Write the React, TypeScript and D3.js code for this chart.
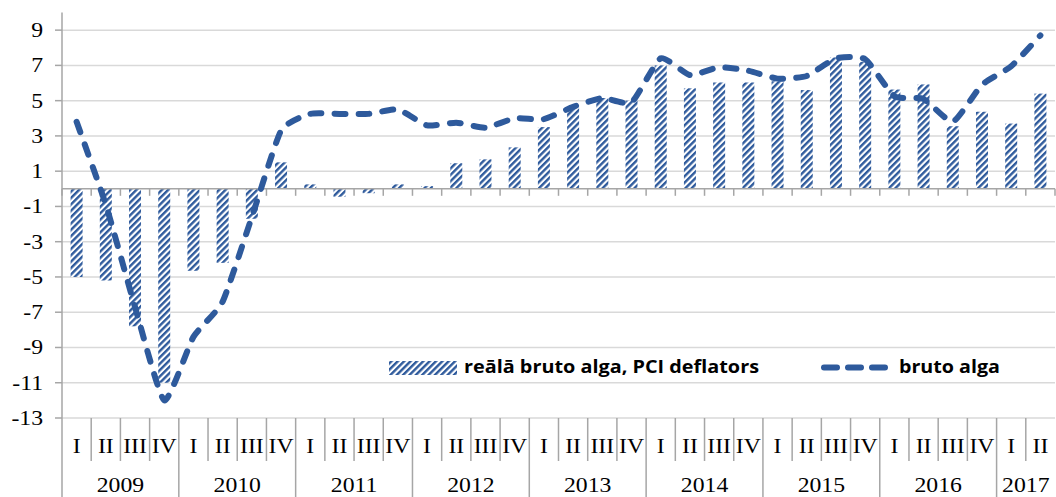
import React from "react";
import * as d3 from "d3";

const years = ["2009", "2010", "2011", "2012", "2013", "2014", "2015", "2016", "2017"];
const quarterLabels = [
  "I", "II", "III", "IV", "I", "II", "III", "IV", "I", "II", "III", "IV",
  "I", "II", "III", "IV", "I", "II", "III", "IV", "I", "II", "III", "IV",
  "I", "II", "III", "IV", "I", "II", "III", "IV", "I", "II",
];
const realWageGrowth = [
  -5.0, -5.2, -7.8, -11.0,
  -4.65, -4.2, -1.7, 1.5,
  0.25, -0.45, -0.25, 0.25,
  0.15, 1.45, 1.67, 2.35,
  3.5, 4.7, 5.15, 5.0,
  7.0, 5.7, 6.03, 6.03,
  6.1, 5.6, 7.45, 7.2,
  5.63, 5.92, 3.55, 4.37,
  3.7, 5.4,
];
const grossWageGrowth = [
  3.8, -0.9, -6.7, -12.0,
  -8.4, -6.4, -1.6, 3.3,
  4.25, 4.25, 4.25, 4.5,
  3.6, 3.75, 3.47, 4.0,
  3.95, 4.65, 5.15, 4.9,
  7.4, 6.45, 6.9, 6.7,
  6.25, 6.4, 7.4, 7.35,
  5.25, 5.1, 3.8, 5.9,
  6.95, 8.7,
];
const yTicks = [9, 7, 5, 3, 1, -1, -3, -5, -7, -9, -11, -13];
const legendBarLabel = "reālā bruto alga, PCI deflators";
const legendLineLabel = "bruto alga";

const W = 1056;
const H = 497;
const left = 62;
const right = 1055;
const top = 12.5;
const bottom = 418;
const blue = "#2E5A9C";
const grid = "#d9d9d9";
const axisGray = "#a6a6a6";
const serif = "'Liberation Serif', 'Times New Roman', serif";
const sans = "'Open Sans', 'Liberation Sans', sans-serif";
const SX = 1.13;

export default function App() {
  const idx = quarterLabels.map((_, i) => i);
  const x = d3.scaleBand<number>().domain(idx).range([left, right]).paddingInner(0).paddingOuter(0);
  const bw = x.bandwidth();
  const barW = 12;
  const y = d3.scaleLinear().domain([-13, 10]).range([bottom, top]);
  const y0 = y(0);

  const line = d3
    .line<number>()
    .x((_, i) => (x(i) as number) + bw / 2)
    .y((d) => y(d))
    .curve(d3.curveCardinal.tension(0.5));

  const boundaries = d3.range(0, quarterLabels.length + 1).map((i) => left + i * bw);

  return (
    <svg width={W} height={H} style={{ position: "absolute", left: 0, top: 0, background: "#fff" }}>
      <defs>
        <pattern id="hatch" patternUnits="userSpaceOnUse" width={4.5} height={4.5} patternTransform="rotate(45)">
          <rect x={0} y={0} width={4.5} height={4.5} fill="#fff" />
          <rect x={0} y={0} width={2.4} height={4.5} fill={blue} />
        </pattern>
      </defs>

      {/* gridlines */}
      {yTicks.map((t) => (
        <line key={t} x1={left} x2={right} y1={y(t)} y2={y(t)} stroke={grid} strokeWidth={1.5} />
      ))}

      {/* bars */}
      {realWageGrowth.map((v, i) => {
        const cx = (x(i) as number) + bw / 2;
        return (
          <rect
            key={i}
            x={cx - barW / 2}
            y={Math.min(y(v), y0)}
            width={barW}
            height={Math.abs(y(v) - y0)}
            fill="url(#hatch)"
          />
        );
      })}

      {/* zero axis */}
      <line x1={left} x2={right} y1={y0} y2={y0} stroke={axisGray} strokeWidth={1.5} />
      {boundaries.map((bx, i) => (
        <line key={i} x1={bx} x2={bx} y1={y0} y2={y0 + 7} stroke={axisGray} strokeWidth={1.5} />
      ))}

      {/* y axis */}
      <line x1={left} x2={left} y1={top} y2={H} stroke={axisGray} strokeWidth={1.5} />
      {yTicks.map((t) => (
        <line key={t} x1={left - 7} x2={left} y1={y(t)} y2={y(t)} stroke={axisGray} strokeWidth={1.5} />
      ))}
      {yTicks.map((t) => (
        <text
          key={t}
          transform={`translate(43,${y(t) + 7}) scale(${SX},1)`}
          textAnchor="end"
          fontFamily={serif}
          fontSize={21}
          fill="#000"
        >
          {String(t)}
        </text>
      ))}

      {/* category separators */}
      {boundaries.slice(1).map((bx, i) => {
        const isYear = (i + 1) % 4 === 0;
        if (i + 1 === quarterLabels.length) return null;
        return (
          <line
            key={i}
            x1={bx}
            x2={bx}
            y1={bottom}
            y2={isYear ? H : 461}
            stroke={axisGray}
            strokeWidth={1.5}
          />
        );
      })}

      {/* quarter labels */}
      {quarterLabels.map((q, i) => (
        <text
          key={i}
          transform={`translate(${(x(i) as number) + bw / 2},453) scale(${SX},1)`}
          textAnchor="middle"
          fontFamily={serif}
          fontSize={21}
          fill="#000"
        >
          {q}
        </text>
      ))}

      {/* year labels */}
      {years.map((yr, j) => {
        const start = j * 4;
        const end = Math.min(start + 4, quarterLabels.length);
        const cx = (left + start * bw + left + end * bw) / 2;
        return (
          <text
            key={yr}
            transform={`translate(${cx},492) scale(${SX},1)`}
            textAnchor="middle"
            fontFamily={serif}
            fontSize={21}
            fill="#000"
          >
            {yr}
          </text>
        );
      })}

      {/* line */}
      <path
        d={line(grossWageGrowth) || ""}
        fill="none"
        stroke={blue}
        strokeWidth={6}
        strokeDasharray="11 13"
        strokeLinecap="round"
        strokeLinejoin="round"
      />

      {/* legend */}
      <rect x={389} y={361} width={68} height={14} fill="url(#hatch)" />
      <text
        x={464}
        y={373}
        fontFamily={sans}
        fontWeight={700}
        fontSize={17}
        textLength={295}
        lengthAdjust="spacingAndGlyphs"
        fill="#000"
      >
        {legendBarLabel}
      </text>
      <line
        x1={824}
        x2={885}
        y1={367.5}
        y2={367.5}
        stroke={blue}
        strokeWidth={6}
        strokeDasharray="13 11"
        strokeLinecap="round"
      />
      <text
        x={899}
        y={373}
        fontFamily={sans}
        fontWeight={700}
        fontSize={17}
        textLength={101}
        lengthAdjust="spacingAndGlyphs"
        fill="#000"
      >
        {legendLineLabel}
      </text>
    </svg>
  );
}
